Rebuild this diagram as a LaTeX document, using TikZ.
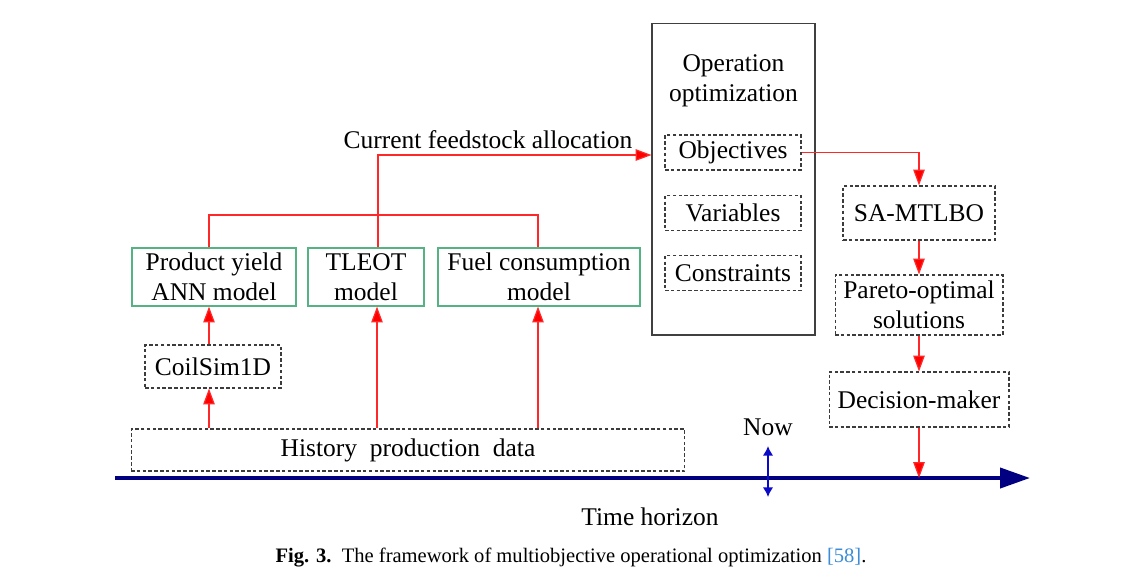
\documentclass[tikz,border=0pt]{standalone}
\usepackage{fontspec}
\setmainfont{Liberation Serif}
\usetikzlibrary{arrows.meta}
\definecolor{boxgreen}{RGB}{85,178,130}
\definecolor{dashgray}{RGB}{60,60,60}
\definecolor{navy}{RGB}{0,0,128}
\definecolor{nowblue}{RGB}{10,10,200}
\definecolor{refblue}{RGB}{60,140,215}
\definecolor{linered}{RGB}{255,40,40}
\begin{document}
\begin{tikzpicture}[x=0.02cm,y=-0.02cm,
  every node/.style={font=\fontsize{14.5}{17}\selectfont, inner sep=0pt, align=center},
  greenbox/.style={draw=boxgreen, line width=0.7pt},
  dashbox/.style={draw=dashgray, line width=0.6pt, dash pattern=on 2pt off 1.3pt},
  opbox/.style={draw=black!75, line width=0.6pt},
  redline/.style={draw=linered, line width=0.7pt},
  redarrow/.style={redline, -{Triangle[length=9pt,width=6.5pt,fill=red]}},
]
\useasboundingbox[fill=white] (0,0) rectangle (1129,579);

% model boxes
\node[greenbox, minimum width=3.28cm, minimum height=1.16cm] (py) at (214,277) {Product yield\\ANN model};
\node[greenbox, minimum width=2.32cm, minimum height=1.16cm] (tl) at (366,277) {TLEOT\\model};
\node[greenbox, minimum width=4.04cm, minimum height=1.16cm] (fu) at (539,277) {Fuel consumption\\model};
\node[dashbox, minimum width=2.72cm, minimum height=0.86cm] (coil) at (213,366.5) {CoilSim1D};
\node[dashbox, minimum width=11.08cm, minimum height=0.84cm] (hist) at (408,450) {History\ \ production\ \ data};

% operation optimization
\node[opbox, minimum width=3.26cm, minimum height=6.24cm] (op) at (733.5,179) {};
\node (optitle) at (733.5,81) {Operation\\optimization};
\node[dashbox, minimum width=2.72cm, minimum height=0.7cm] (obj) at (733,152.5) {Objectives};
\node[dashbox, minimum width=2.72cm, minimum height=0.7cm] (var) at (733,213) {Variables};
\node[dashbox, minimum width=2.72cm, minimum height=0.7cm] (con) at (733,273) {Constraints};

% right column
\node[dashbox, minimum width=3.04cm, minimum height=1.08cm] (sa) at (919,213) {SA-MTLBO};
\node[dashbox, minimum width=3.36cm, minimum height=1.2cm] (po) at (919,305) {Pareto-optimal\\solutions};
\node[dashbox, minimum width=3.6cm, minimum height=1.1cm] (dm) at (919,399.5) {Decision-maker};

% time axis
\coordinate (axL) at (115,478);
\coordinate (axR) at (1030,478);
\draw[navy, line width=2.3pt, -{Triangle[length=0.6cm,width=0.4cm]}] (axL) -- (axR);
\coordinate (nowT) at (768,446);
\coordinate (nowB) at (768,497);
\draw[nowblue, line width=1pt, {Latex[length=5.5pt,width=6pt]}-{Latex[length=5.5pt,width=6pt]}] (nowT) -- (nowB);
\node (now) at (768,427) {Now};
\node (th) at (650,517) {Time horizon};

% labels
\node (cfa) at (488,140) {Current feedstock allocation};

% red connectors
\draw[redline] (py.north -| 209,0) -- (209,215) -- (538,215) -- (fu.north -| 538,0);
\draw[redarrow] (tl.north -| 378,0) |- (op.west |- 0,155);
\draw[redarrow] (coil.north -| 209,0) -- (py.south -| 209,0);
\draw[redarrow] (hist.north -| 209,0) -- (coil.south -| 209,0);
\draw[redarrow] (hist.north -| 377,0) -- (tl.south -| 377,0);
\draw[redarrow] (hist.north -| 538,0) -- (fu.south -| 538,0);
\draw[redarrow] (obj.east) -| (sa.north);
\draw[redarrow] (sa.south) -- (po.north);
\draw[redarrow] (po.south) -- (dm.north);
\draw[redarrow] (dm.south) -- (dm.south |- axL);

% caption
\node[font=\fontsize{11.7}{14}\selectfont] (cap) at (571,558) {\textbf{Fig. 3.}\ \ The framework of multiobjective operational optimization \textcolor{refblue}{[58]}.};
\end{tikzpicture}
\end{document}
